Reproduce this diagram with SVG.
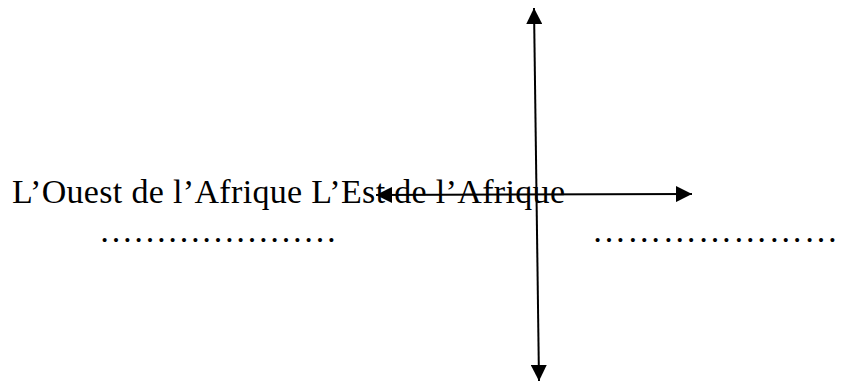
<svg xmlns="http://www.w3.org/2000/svg" width="841" height="383" viewBox="0 0 841 383">
<style>
.t{font-family:"Liberation Serif","Times New Roman",serif;fill:#000}
.main{font-size:34px}
.dots{font-size:34px}
.ax{stroke:#000;stroke-width:2;fill:none;marker-start:url(#ah);marker-end:url(#ah)}
</style>
<defs>
<marker id="ah" viewBox="0 0 16 16" refX="16" refY="8" markerWidth="16" markerHeight="16" markerUnits="userSpaceOnUse" orient="auto-start-reverse">
<path d="M0,0 L16,8 L0,16 z" fill="#000"/>
</marker>
</defs>
<rect width="841" height="383" fill="#fff"/>
<g id="labels">
<text class="t main" x="12" y="203" textLength="553" lengthAdjust="spacing">L’Ouest de l’Afrique L’Est de l’Afrique</text>
</g>
<g id="dots-left">
<text class="t dots" x="99" y="242">…………………</text>
</g>
<g id="dots-right">
<text class="t dots" x="592" y="242" textLength="246" lengthAdjust="spacing">…………………</text>
</g>
<g id="connectors">
<line class="ax" x1="534" y1="8" x2="539" y2="381"/>
<line class="ax" x1="376" y1="195" x2="692" y2="194"/>
</g>
</svg>
